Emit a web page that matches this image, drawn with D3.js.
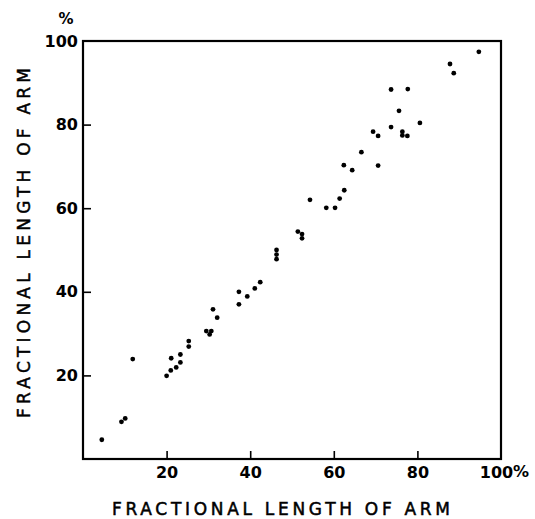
<!DOCTYPE html>
<html>
<head>
<meta charset="utf-8">
<script src="https://cdn.jsdelivr.net/npm/d3@7"></script>
<style>
  html, body { margin: 0; padding: 0; background: #fff; }
  svg { display: block; }
  text { font-family: "DejaVu Sans", sans-serif; fill: #000; }
</style>
</head>
<body>
<svg id="chart" width="535" height="519"></svg>
<script>
// Data
const xValues = [4.5, 9.2, 10.1, 11.9, 20.0, 21.0, 21.1, 22.3, 23.3, 23.3, 25.3, 25.3,
  29.5, 30.3, 30.7, 31.1, 32.1, 37.3, 37.3, 39.3, 41.1, 42.4, 46.3, 46.3, 46.3,
  51.4, 52.4, 52.4, 54.3, 58.2, 60.3, 61.4, 62.5, 62.4, 64.4, 66.6, 70.6, 69.4,
  70.6, 73.7, 76.4, 76.4, 77.6, 80.6, 75.6, 73.7, 77.7, 87.8, 88.7, 94.7];
const yValues = [4.6, 8.9, 9.7, 23.9, 19.9, 21.2, 24.1, 21.9, 23.1, 25.0, 28.2, 26.9,
  30.6, 29.8, 30.6, 35.8, 33.8, 40.0, 37.0, 38.9, 40.8, 42.3, 50.0, 48.9, 47.8,
  54.4, 53.8, 52.8, 62.0, 60.1, 60.1, 62.3, 64.3, 70.3, 69.1, 73.4, 70.2, 78.3,
  77.3, 79.4, 78.3, 77.4, 77.3, 80.4, 83.3, 88.4, 88.5, 94.5, 92.3, 97.4];
const xTicks = [20, 40, 60, 80, 100];
const yTicks = [20, 40, 60, 80, 100];
const axisTitle = "FRACTIONAL LENGTH OF ARM";
const unitLabel = "%";

const svg = d3.select("#chart");
const x = d3.scaleLinear().domain([0, 100]).range([83, 501]);
const y = d3.scaleLinear().domain([0, 100]).range([459, 41]);

// frame
svg.append("rect")
  .attr("x", x(0)).attr("y", y(100))
  .attr("width", x(100) - x(0)).attr("height", y(0) - y(100))
  .attr("fill", "none").attr("stroke", "#000").attr("stroke-width", 2.2);

// x axis
const gx = svg.append("g").attr("transform", `translate(0,${y(0)})`)
  .call(d3.axisBottom(x).tickValues(xTicks).tickFormat(d3.format("d"))
    .tickSizeInner(-8).tickSizeOuter(0).tickPadding(8));
gx.select(".domain").remove();
gx.selectAll(".tick line").attr("stroke", "#000").attr("stroke-width", 1.6)
  .filter(d => d === 100).remove();
gx.selectAll(".tick text").attr("font-size", 16).attr("font-family", "DejaVu Sans")
  .style("font-weight", "bold").attr("fill", "#000")
  .attr("dx", d => d === 100 ? -5 : 0);

// y axis
const gy = svg.append("g").attr("transform", `translate(${x(0)},0)`)
  .call(d3.axisLeft(y).tickValues(yTicks).tickFormat(d3.format("d"))
    .tickSizeInner(-8).tickSizeOuter(0).tickPadding(5));
gy.select(".domain").remove();
gy.selectAll(".tick line").attr("stroke", "#000").attr("stroke-width", 1.6)
  .filter(d => d === 100).remove();
gy.selectAll(".tick text").attr("font-size", 16).attr("font-family", "DejaVu Sans")
  .style("font-weight", "bold").attr("fill", "#000");

// unit labels
svg.append("text").attr("x", 66).attr("y", 24).attr("text-anchor", "middle")
  .attr("font-size", 15).style("font-weight", "bold").text(unitLabel);
svg.append("text").attr("x", x(100) + 12).attr("y", 477).attr("text-anchor", "start")
  .attr("font-size", 16).style("font-weight", "bold").text(unitLabel);

// axis titles
svg.append("text").attr("x", 112).attr("y", 515)
  .attr("font-size", 17).style("font-weight", "normal")
  .attr("stroke", "#000").attr("stroke-width", 0.5)
  .attr("textLength", 338).attr("lengthAdjust", "spacing")
  .text(axisTitle);
svg.append("text").attr("transform", "translate(30,418) rotate(-90)")
  .attr("x", 0).attr("y", 0)
  .attr("font-size", 17).style("font-weight", "normal")
  .attr("stroke", "#000").attr("stroke-width", 0.5)
  .attr("textLength", 350).attr("lengthAdjust", "spacing")
  .text(axisTitle);

// points
svg.append("g").selectAll("circle")
  .data(xValues.map((v, i) => [v, yValues[i]]))
  .join("circle")
  .attr("cx", d => x(d[0])).attr("cy", d => y(d[1]))
  .attr("r", 2.4).attr("fill", "#000");
</script>
</body>
</html>
